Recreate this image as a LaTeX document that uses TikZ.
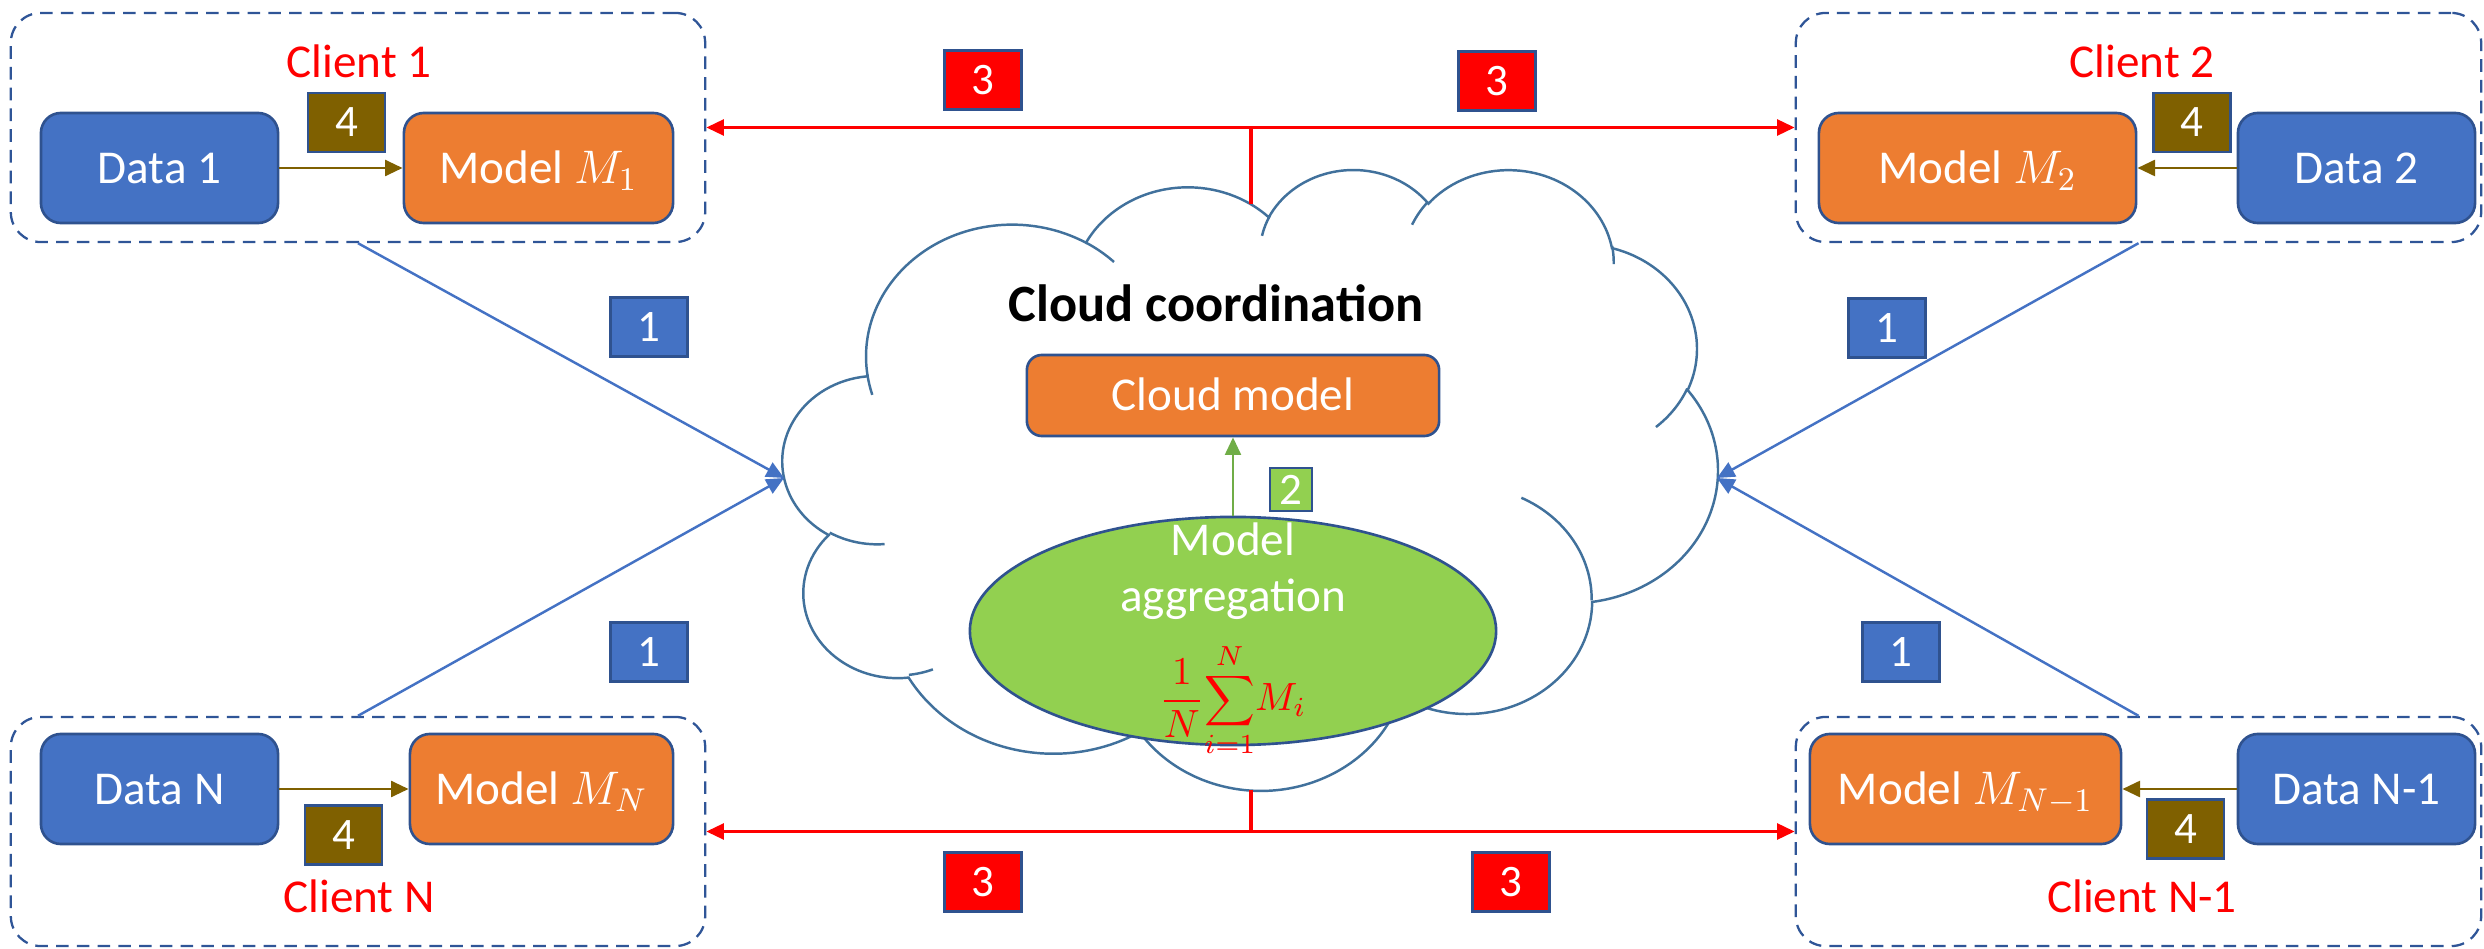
\RequirePackage{fix-cm}
\documentclass[tikz,border=0pt]{standalone}
\usepackage{fontspec}
\setmainfont{Carlito}
\usetikzlibrary{arrows.meta,shapes.geometric}

\definecolor{fillBlue}{HTML}{4472C4}
\definecolor{edgeBlue}{HTML}{2F528F}
\definecolor{dashBlue}{HTML}{2F5597}
\definecolor{fillOrange}{HTML}{ED7D31}
\definecolor{fillGreen}{HTML}{92D050}
\definecolor{arrowGreen}{HTML}{70AD47}
\definecolor{localBrown}{HTML}{7F6000}
\definecolor{cloudEdge}{HTML}{41719C}
\definecolor{pureRed}{HTML}{FF0000}

\tikzset{
  boxtext/.style={font=\fontsize{13.4}{16}\selectfont, text=white},
  client/.style={draw=dashBlue, line width=0.65pt, dash pattern=on 3.6pt off 2.3pt,
    rounded corners=0.3cm, minimum width=6.94cm, minimum height=2.29cm, inner sep=0pt},
  databox/.style={draw=edgeBlue, fill=fillBlue, line width=0.75pt, rounded corners=0.2cm,
    minimum width=2.37cm, minimum height=1.10cm, inner sep=0pt, boxtext,
    text height=8.6pt, text depth=0pt},
  modelbox/.style={databox, fill=fillOrange},
  badge/.style={draw=edgeBlue, line width=0.75pt, minimum width=0.77cm, minimum height=0.59cm,
    inner sep=0pt, text=white, font=\fontsize{12.8}{15}\selectfont},
  clientname/.style={text=pureRed, font=\fontsize{13.4}{16}\selectfont, anchor=base, inner sep=0pt},
  plaintext/.style={font=\fontsize{13.4}{16}\selectfont, anchor=base, inner sep=0pt},
  tip/.style={-{Triangle[length=5pt,width=4.5pt]}},
  localflow/.style={tip, draw=localBrown, line width=0.85pt},
  upload/.style={tip, draw=fillBlue, line width=0.7pt},
  broadcast/.style={{Triangle[length=5pt,width=4.5pt]}-{Triangle[length=5pt,width=4.5pt]},
    draw=pureRed, line width=0.9pt},
  stem/.style={draw=pureRed, line width=0.9pt},
  cloudline/.style={draw=cloudEdge, line width=0.7pt},
  % elliptic arc given by radii, visual start angle and sweep (degrees, clockwise)
  lobe/.style n args={4}{insert path={
    arc[start angle={atan2(#1*sin(#3),#2*cos(#3))},
        end angle={atan2(#1*sin(#3),#2*cos(#3))+mod(atan2(#1*sin(#3+#4),#2*cos(#3+#4))-atan2(#1*sin(#3),#2*cos(#3))+720,360)},
        x radius=#1, y radius=#2]}},
}

\begin{document}
\begin{tikzpicture}[x=0.01cm, y=-0.01cm]
\useasboundingbox (0,0) rectangle (2484,949);

% ---------- cloud outline ----------
\begin{scope}[shift={(783,168)}, x=0.021620cm, y=-0.014352cm]
  \draw[cloudline, fill=white] (39.00,143.70)
    [lobe={67.53}{91.90}{-190.48748}{123.78053}]
    [lobe={53.33}{72.67}{-144.10238}{89.94523}]
    [lobe={43.65}{59.45}{-145.80792}{99.72302}]
    [lobe={48.57}{65.95}{-130.98607}{117.24173}]
    [lobe={53.33}{72.73}{-78.70888}{109.02692}]
    [lobe={67.75}{92.20}{-46.26725}{130.26900}]
    [lobe={57.85}{78.67}{0.62502}{114.03333}]
    [lobe={67.52}{92.15}{22.45160}{115.17255}]
    [lobe={77.20}{105.43}{66.24263}{75.71102}]
    [lobe={43.60}{59.18}{-274.94208}{146.73557}]
    [lobe={43.45}{59.45}{-246.82850}{152.51885}]
    -- cycle;
  \draw[cloudline]
    (46.93,261.77) [lobe={43.45}{59.45}{86.74200}{26.42950}]
    (69.28,348.99) [lobe={43.60}{59.18}{73.61047}{11.44747}]
    (164.78,390.90) [lobe={67.52}{92.15}{137.62415}{14.08110}]
    (288.27,347.51) [lobe={67.52}{92.15}{6.45327}{15.99835}]
    (341.29,229.54) [lobe={57.85}{78.67}{-70.29235}{70.91737}]
    (417.98,153.54) [lobe={53.33}{72.73}{30.31803}{27.75150}]
    (383.24,54.26) [lobe={48.57}{65.95}{-13.74433}{14.85890}]
    (290.78,39.52) [lobe={48.57}{65.95}{-149.18145}{18.19537}]
    (221.41,47.20) [lobe={43.65}{59.45}{-163.49427}{17.68635}]
    (140.00,51.92) [lobe={67.53}{91.90}{-66.70695}{12.31935}]
    (41.27,157.89) [lobe={67.53}{91.90}{157.65435}{11.85817}];
\end{scope}
\coordinate (cloudW) at (784,478);
\coordinate (cloudE) at (1717,478);
\coordinate (cloudN) at (1251,204.5);
\coordinate (cloudS) at (1251,790);

% ---------- clients ----------
\node[client] (clientA) at (358,127.5) {};
\node[clientname] (nameA) at (359,78) {Client 1};
\node[databox] (dataA) at (159.5,168) {Data 1};
\node[modelbox, minimum width=2.69cm] (modelA) at (538.5,168) {Model $M_1$};
\node[badge, fill=localBrown] (localA) at (346.5,122.5) {4};

\node[client, minimum width=6.85cm] (clientB) at (2138.5,127.5) {};
\node[clientname] (nameB) at (2142,78) {Client 2};
\node[databox] (dataB) at (2356.5,168) {Data 2};
\node[modelbox, minimum width=3.17cm] (modelB) at (1977.5,168) {Model $M_2$};
\node[badge, fill=localBrown] (localB) at (2192,122.5) {4};

\node[client] (clientC) at (358,831.5) {};
\node[clientname] (nameC) at (359,912) {Client N};
\node[databox] (dataC) at (159.5,789) {Data N};
\node[modelbox, minimum width=2.63cm] (modelC) at (541.5,789) {Model $M_N$};
\node[badge, fill=localBrown] (localC) at (343.5,835) {4};

\node[client, minimum width=6.85cm] (clientD) at (2138.5,831.5) {};
\node[clientname] (nameD) at (2142,912) {Client N-1};
\node[databox] (dataD) at (2356.5,789) {Data N-1};
\node[modelbox, minimum width=3.11cm] (modelD) at (1965.5,789) {Model $M_{N-1}$};
\node[badge, fill=localBrown] (localD) at (2185.5,829) {4};

\draw[localflow] (dataA) -- (modelA);
\draw[localflow] (dataB) -- (modelB);
\draw[localflow] (dataC) -- (modelC);
\draw[localflow] (dataD) -- (modelD);

% ---------- cloud contents ----------
\node[font=\bfseries\fontsize{14.9}{18}\selectfont, anchor=base, inner sep=0pt] (title) at (1216,322) {Cloud coordination};
\node[modelbox, rounded corners=0.15cm, minimum width=4.12cm, minimum height=0.81cm] (cloudModel) at (1233,395.5) {Cloud model};
\node[ellipse, draw=edgeBlue, fill=fillGreen, line width=0.75pt, minimum width=5.26cm,
      minimum height=2.28cm, inner sep=0pt] (agg) at (1233,631) {};
\node[plaintext, text=white] (aggA) at (1233,556) {Model};
\node[plaintext, text=white] (aggB) at (1233,611) {aggregation};
\node[inner sep=0pt, text=pureRed, font=\fontsize{11.2}{14}\selectfont] (aggF) at (1233,700)
  {$\displaystyle\frac{1}{N}\!\sum_{i=1}^{N}\!M_i$};
\draw[tip, draw=arrowGreen, line width=0.75pt] (agg.north) -- (cloudModel.south);
\node[badge, fill=fillGreen, minimum width=0.42cm, minimum height=0.43cm] (stepAgg) at (1291,489.5) {2};

% ---------- uploads to the cloud ----------
\draw[upload] (clientA.south) -- (cloudW);
\draw[upload] (clientC.north) -- (cloudW);
\draw[upload] (clientB.south) -- (cloudE);
\draw[upload] (clientD.north) -- (cloudE);
\node[badge, fill=fillBlue] (upA) at (649,327) {1};
\node[badge, fill=fillBlue] (upC) at (649,652) {1};
\node[badge, fill=fillBlue] (upB) at (1887,328) {1};
\node[badge, fill=fillBlue] (upD) at (1901,652) {1};

% ---------- broadcast back to the clients ----------
\draw[broadcast] (clientA.east) -- (clientB.west);
\draw[stem] (cloudN) -- (cloudN |- clientA.east);
\draw[broadcast] (clientC.east) -- (clientD.west);
\draw[stem] (cloudS) -- (cloudS |- clientC.east);
\node[badge, fill=pureRed] (downA) at (983,80) {3};
\node[badge, fill=pureRed] (downB) at (1497,81) {3};
\node[badge, fill=pureRed] (downC) at (983,882) {3};
\node[badge, fill=pureRed] (downD) at (1511,882) {3};
\end{tikzpicture}
\end{document}
